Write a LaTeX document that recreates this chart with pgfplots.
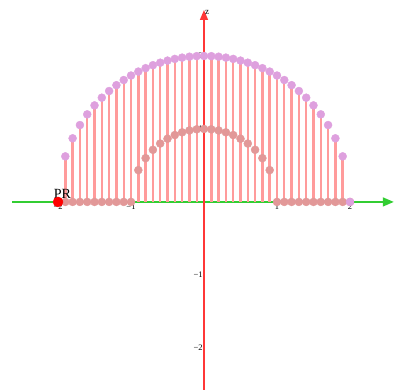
\documentclass[border=0pt]{standalone}
\usepackage{fontspec}
\setmainfont{Liberation Serif}
\usepackage{pgfplots}
\pgfplotsset{compat=1.18}
\usepackage{pgfplotstable}
\usetikzlibrary{arrows.meta}

\definecolor{stem}{RGB}{255,155,155}
\definecolor{outerpt}{RGB}{222,160,222}
\definecolor{innerpt}{RGB}{226,152,152}
\definecolor{band}{RGB}{190,190,242}
\definecolor{xaxis}{RGB}{50,205,50}
\definecolor{zaxis}{RGB}{255,55,55}

% outer half circle, radius 2
\pgfplotstableread{
x outer
-2.0 0
-1.9 0.6245
-1.8 0.8718
-1.7 1.0536
-1.6 1.2
-1.5 1.3229
-1.4 1.4283
-1.3 1.5199
-1.2 1.6
-1.1 1.6703
-1.0 1.7321
-0.9 1.7861
-0.8 1.8330
-0.7 1.8735
-0.6 1.9079
-0.5 1.9365
-0.4 1.9596
-0.3 1.9774
-0.2 1.9900
-0.1 1.9975
0.0 2
0.1 1.9975
0.2 1.9900
0.3 1.9774
0.4 1.9596
0.5 1.9365
0.6 1.9079
0.7 1.8735
0.8 1.8330
0.9 1.7861
1.0 1.7321
1.1 1.6703
1.2 1.6
1.3 1.5199
1.4 1.4283
1.5 1.3229
1.6 1.2
1.7 1.0536
1.8 0.8718
1.9 0.6245
2.0 0
}\outertable

% inner half circle, radius 1 (zero outside)
\pgfplotstableread{
x inner
-2.0 0
-1.9 0
-1.8 0
-1.7 0
-1.6 0
-1.5 0
-1.4 0
-1.3 0
-1.2 0
-1.1 0
-1.0 0
-0.9 0.4359
-0.8 0.6
-0.7 0.7141
-0.6 0.8
-0.5 0.8660
-0.4 0.9165
-0.3 0.9539
-0.2 0.9798
-0.1 0.9950
0.0 1
0.1 0.9950
0.2 0.9798
0.3 0.9539
0.4 0.9165
0.5 0.8660
0.6 0.8
0.7 0.7141
0.8 0.6
0.9 0.4359
1.0 0
1.1 0
1.2 0
1.3 0
1.4 0
1.5 0
1.6 0
1.7 0
1.8 0
1.9 0
2.0 0
}\innertable

\begin{document}
\begin{tikzpicture}
\begin{axis}[
  scale only axis, width=381.8pt, height=380.3pt,
  xmin=-2.63, xmax=2.60, ymin=-2.58, ymax=2.63,
  axis lines=middle, axis line style={draw=none,-},
  clip=false,
  xtick={-2,-1,0,1,2}, xticklabels={−2,−1,{−\llap{0}0},1,2},
  ytick={-2,-1,1,2}, yticklabels={−2,−1,1,2},
  major tick length=0pt,
  tick label style={font=\fontsize{8.5}{9}\selectfont, inner sep=1.2pt},
  xticklabel style={yshift=-1pt},
]
\draw[xaxis, line width=1.5pt, -{Triangle[length=11pt,width=9pt]}]
  (axis cs:-2.63,0) -- (axis cs:2.60,0);
\addplot[ycomb, stem, line width=2.4pt, mark=none] table[x=x,y=outer]{\outertable};
\addplot[only marks, color=innerpt, mark=*, mark size=4pt, mark options={draw=none, fill=innerpt}]
  table[x=x,y=inner]{\innertable};
\addplot[band, line width=3pt, mark=none] coordinates {(1,0) (2,0)};
\addplot[only marks, color=outerpt, mark=*, mark size=4pt, mark options={draw=none, fill=outerpt}]
  table[x=x,y=outer]{\outertable};
\addplot[only marks, color=red, mark=*, mark size=5pt, mark options={draw=none, fill=red}]
  coordinates {(-2,0)};
\node[anchor=south, inner sep=0pt, font=\fontsize{14}{15}\selectfont]
  at (axis cs:-1.94,0.05) {PR};
\draw[zaxis, line width=1.5pt, -{Triangle[length=10pt,width=8pt]}]
  (axis cs:0,-2.58) -- (axis cs:0,2.63);
\node[anchor=west, inner sep=1pt, font=\fontsize{9}{10}\selectfont]
  at (axis cs:0.0,2.60) {z};
\coordinate (bl) at (axis cs:-2.795,-2.575);
\coordinate (tr) at (axis cs:2.603,2.767);
\end{axis}
\pgfresetboundingbox
\path[use as bounding box] (bl) rectangle (tr);
\end{tikzpicture}
\end{document}
